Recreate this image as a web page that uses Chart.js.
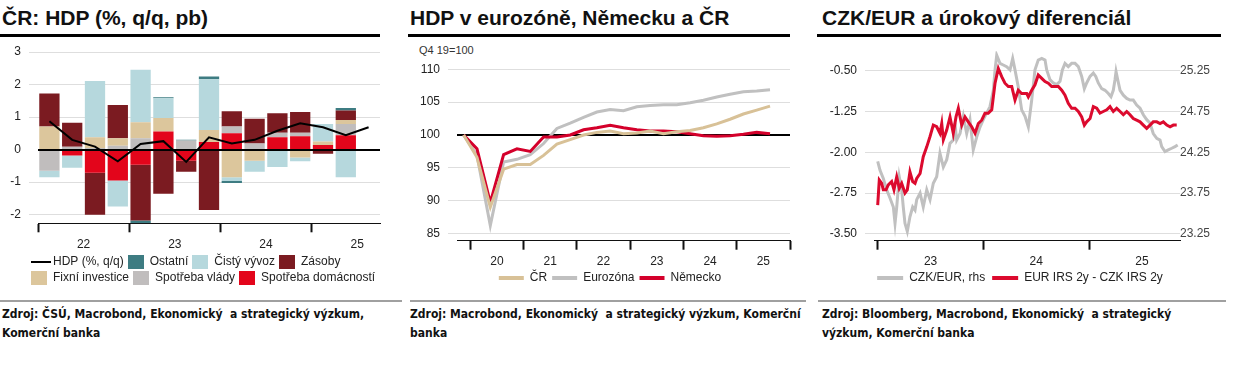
<!DOCTYPE html>
<html lang="cs">
<head>
<meta charset="utf-8">
<title>HDP, CZK/EUR</title>
<script src="https://cdn.jsdelivr.net/npm/chart.js@4.4.1/dist/chart.umd.min.js"></script>
<style>
html,body{margin:0;padding:0;background:#fff;}
body{width:1233px;height:372px;position:relative;overflow:hidden;font-family:"Liberation Sans",Arial,Helvetica,sans-serif;color:#111;}
.title{position:absolute;top:6px;font-size:21px;line-height:24px;font-weight:bold;white-space:nowrap;color:#111;}
.rule{position:absolute;top:34px;height:3px;background:#000;}
canvas{position:absolute;top:36px;}
.unit{position:absolute;left:419px;top:44px;font-size:11px;line-height:13px;color:#333;}
.src{position:absolute;top:300px;border-top:2px solid #a0a0a0;padding-top:3px;font-family:"Liberation Sans Narrow","Arial Narrow","DejaVu Sans Condensed",sans-serif;font-stretch:condensed;font-weight:bold;font-size:12px;line-height:19px;color:#111;white-space:nowrap;}
</style>
</head>
<body>
<div class="title" style="left:2px">ČR: HDP (%, q/q, pb)</div>
<div class="rule" style="left:0;width:380px"></div>
<div class="title" style="left:410px">HDP v eurozóně, Německu a ČR</div>
<div class="rule" style="left:408px;width:382px"></div>
<div class="title" style="left:822px">CZK/EUR a úrokový diferenciál</div>
<div class="rule" style="left:817px;width:404px"></div>
<div class="unit">Q4 19=100</div>

<canvas id="c1" width="400" height="258" style="left:0"></canvas>
<canvas id="c2" width="400" height="258" style="left:410px"></canvas>
<canvas id="c3" width="410" height="258" style="left:815px"></canvas>

<div class="src" style="left:0;width:400px;padding-left:2px">Zdroj: ČSÚ, Macrobond, Ekonomický&nbsp; a strategický výzkum,<br>Komerční banka</div>
<div class="src" style="left:410px;width:396px">Zdroj: Macrobond, Ekonomický&nbsp; a strategický výzkum, Komerční<br>banka</div>
<div class="src" style="left:818px;width:404px;padding-left:4px">Zdroj: Bloomberg, Macrobond, Ekonomický&nbsp; a strategický<br>výzkum, Komerční banka</div>

<script>
// ---------- Panel 1: ČR HDP contributions ----------
const quarters1 = ['1Q22','2Q22','3Q22','4Q22','1Q23','2Q23','3Q23','4Q23','1Q24','2Q24','3Q24','4Q24','1Q25','2Q25','3Q25'];
const yearLabels1 = ['22','23','24','25'];
const yTicks1 = [-2, -1, 0, 1, 2, 3];
const spotrebaDomacnosti = [0, -0.18, -0.71, -0.95, -0.47, 0.56, -0.34, 0.23, 0.50, 0, 0.38, 0.41, 0.14, 0.44, null];
const spotrebaVlady      = [-0.65, 0.09, 0.05, 0.12, 0.35, 0, 0.28, 0, 0.21, 0.19, 0.14, 0.11, 0, 0.35, null];
const fixniInvestice     = [0.71, 0, 0.33, 0.23, 0.49, 0.41, 0, 0.37, -0.85, -0.34, 0, -0.24, 0.11, 0.12, null];
const zasoby             = [1.02, 0.74, -1.30, 1.02, -1.71, -1.36, -0.34, -1.86, 0.47, 0.76, 0.60, 0.64, -0.13, 0.29, null];
const cistyVyvoz         = [-0.20, -0.38, 1.73, -0.80, 1.62, 0.61, 0, 1.57, -0.12, -0.34, -0.54, -0.12, 0.54, -0.85, null];
const ostatni            = [0, 0, 0, 0, -0.09, 0.03, 0.02, 0.08, -0.06, 0, 0, 0, 0, 0.08, null];
const hdpQQ              = [0.87, 0.30, 0.09, -0.36, 0.17, 0.26, -0.38, 0.38, 0.19, 0.30, 0.58, 0.81, 0.69, 0.44, 0.69];

// ---------- Panel 2: HDP index ----------
const quarters2 = ['4Q19','1Q20','2Q20','3Q20','4Q20','1Q21','2Q21','3Q21','4Q21','1Q22','2Q22','3Q22','4Q22',
                   '1Q23','2Q23','3Q23','4Q23','1Q24','2Q24','3Q24','4Q24','1Q25','2Q25','3Q25','4Q25'];
const yearLabels2 = ['20','21','22','23','24','25'];
const yTicks2 = [85, 90, 95, 100, 105, 110];
const hdpCR        = [100, 96.6, 89.0, 94.8, 95.5, 95.5, 96.9, 98.6, 99.3, 100.0, 100.4, 100.6, 100.2, 100.3, 100.6, 100.2, 100.5, 100.7, 101.1, 101.7, 102.4, 103.2, 103.8, 104.4];
const hdpEurozona  = [100, 96.9, 86.2, 95.9, 96.3, 97.0, 98.7, 101.0, 101.8, 102.7, 103.5, 103.9, 103.7, 104.3, 104.5, 104.6, 104.6, 104.9, 105.3, 105.8, 106.2, 106.6, 106.7, 106.9];
const hdpNemecko   = [100, 97.9, 89.7, 97.0, 97.9, 97.5, 99.7, 99.7, 100.0, 100.8, 101.1, 101.5, 101.1, 100.8, 100.6, 100.6, 100.5, 100.2, 99.9, 99.8, 99.9, 100.1, 100.4, 100.2];

// ---------- Panel 3: CZK/EUR and rate differential ----------
const yearLabels3 = ['23','24','25'];
const yTicksLeft3 = [-3.5, -2.75, -2.0, -1.25, -0.5];
const yTicksRight3 = [23.25, 23.75, 24.25, 24.75, 25.25];
const czkDates = [2023.000,2023.022,2023.053,2023.085,2023.116,2023.148,2023.164,2023.180,2023.204,2023.227,2023.242,2023.258,2023.280,2023.305,2023.331,2023.353,2023.369,2023.401,2023.431,2023.464,2023.495,2023.526,2023.558,2023.589,2023.621,2023.653,2023.684,2023.715,2023.731,2023.747,2023.779,2023.810,2023.842,2023.873,2023.904,2023.937,2023.968,2023.999,
  2024.031,2024.062,2024.094,2024.110,2024.126,2024.157,2024.188,2024.220,2024.252,2024.277,2024.299,2024.330,2024.362,2024.394,2024.425,2024.457,2024.488,2024.519,2024.552,2024.583,2024.599,2024.630,2024.661,2024.694,2024.725,2024.747,2024.772,2024.803,2024.835,2024.867,2024.898,2024.930,2024.955,2024.977,
  2025.009,2025.040,2025.063,2025.087,2025.119,2025.151,2025.182,2025.207,2025.229,2025.245,2025.255,2025.271,2025.293,2025.324,2025.356,2025.387,2025.418,2025.450,2025.482,2025.513,2025.545,2025.576,2025.607,2025.640,2025.671,2025.687,2025.718,2025.749,2025.782,2025.813,2025.838];
const czkEur = [24.14,24.03,23.93,23.79,23.69,23.58,23.38,23.58,23.95,23.79,23.58,23.38,23.28,23.46,23.58,23.54,23.67,23.75,23.58,23.79,23.67,23.87,23.95,24.24,24.07,24.16,24.36,24.40,24.61,24.40,24.48,24.69,24.48,24.65,24.28,24.44,24.56,24.65,
  24.73,24.81,25.01,25.26,25.44,25.34,25.32,25.30,25.26,25.40,25.26,25.05,24.77,24.69,24.56,24.89,25.26,25.38,25.40,25.38,25.26,25.14,25.10,25.08,25.12,25.26,25.34,25.30,25.34,25.34,25.30,25.18,25.03,25.10,
  25.18,25.22,25.18,25.10,25.03,25.01,24.97,24.93,25.01,25.14,25.24,25.14,25.01,24.95,24.91,24.89,24.89,24.83,24.79,24.71,24.65,24.61,24.48,24.42,24.40,24.32,24.26,24.28,24.30,24.32,24.34];
const irsDates = [2023.000,2023.015,2023.038,2023.053,2023.079,2023.100,2023.132,2023.154,2023.180,2023.204,2023.227,2023.258,2023.280,2023.305,2023.331,2023.353,2023.369,2023.401,2023.431,2023.464,2023.495,2023.526,2023.558,2023.589,2023.606,2023.621,2023.653,2023.684,2023.715,2023.741,2023.763,2023.795,2023.826,2023.857,2023.889,2023.921,2023.952,2023.984,
  2024.015,2024.046,2024.079,2024.110,2024.141,2024.173,2024.204,2024.236,2024.268,2024.299,2024.330,2024.362,2024.410,2024.425,2024.457,2024.488,2024.519,2024.552,2024.583,2024.614,2024.646,2024.677,2024.709,2024.741,2024.772,2024.803,2024.835,2024.867,2024.898,2024.930,2024.955,2024.977,
  2025.009,2025.040,2025.072,2025.103,2025.134,2025.167,2025.198,2025.229,2025.261,2025.293,2025.324,2025.356,2025.387,2025.418,2025.450,2025.482,2025.513,2025.545,2025.576,2025.607,2025.640,2025.671,2025.702,2025.735,2025.766,2025.797,2025.829];
const irsSpread = [-2.97,-2.51,-2.57,-2.69,-2.69,-2.60,-2.54,-2.69,-2.45,-2.66,-2.57,-2.75,-2.69,-2.36,-2.54,-2.57,-2.48,-2.39,-2.08,-1.90,-1.71,-1.50,-1.53,-1.65,-1.47,-1.77,-1.59,-1.35,-1.65,-1.35,-1.19,-1.50,-1.35,-1.44,-1.53,-1.65,-1.47,-1.41,
  -1.28,-1.28,-1.22,-0.73,-0.46,-0.61,-0.73,-0.79,-0.79,-1.04,-0.86,-0.92,-0.92,-0.98,-0.86,-0.76,-0.58,-0.64,-0.70,-0.73,-0.79,-0.79,-0.79,-0.86,-0.95,-1.10,-1.19,-1.19,-1.25,-1.35,-1.50,-1.44,
  -1.38,-1.16,-1.19,-1.28,-1.25,-1.22,-1.16,-1.25,-1.19,-1.25,-1.31,-1.25,-1.31,-1.38,-1.41,-1.44,-1.50,-1.56,-1.50,-1.44,-1.44,-1.47,-1.44,-1.50,-1.53,-1.50,-1.50];

// ---------- common ----------
Chart.defaults.font.family = '"Liberation Sans", Arial, Helvetica, sans-serif';
Chart.defaults.font.size = 12;
Chart.defaults.color = '#222';
Chart.defaults.animation = false;

const C = {
  red: '#e3051b', darkRed: '#7b1b21', tan: '#dcc69c', gray: '#c0bdbd',
  lightBlue: '#b6d8dd', teal: '#3e7c82', black: '#000',
  lineRed: '#d4002b', lineTan: '#d8c197', lineGray: '#c0c0c0', grid: '#dedede'
};
const NONE = 'rgba(0,0,0,0)';

function rectIcon(color, w, h) {
  const c = document.createElement('canvas'); c.width = w; c.height = h;
  const g = c.getContext('2d'); g.fillStyle = color; g.fillRect(0, 0, w, h); return c;
}
function lineIcon(color, w, lw, from, to) {
  const c = document.createElement('canvas'); c.width = w; c.height = lw;
  const g = c.getContext('2d'); g.fillStyle = color; g.fillRect(from, 0, to - from, lw); return c;
}
function fixedWidth(w) { return s => { s.width = w; }; }
function fixedHeight(h) { return s => { s.height = h; }; }
function dummyRight(w) {
  return { position: 'right', display: true, grid: { display: false, drawTicks: false },
           ticks: { display: false }, border: { display: false }, afterFit: fixedWidth(w) };
}

const zeroLine = {
  id: 'zeroLine',
  afterDatasetsDraw(chart) {
    const { ctx, chartArea: a, scales: { y } } = chart;
    const py = Math.round(y.getPixelForValue(0));
    ctx.save(); ctx.strokeStyle = '#000'; ctx.lineWidth = 2;
    ctx.beginPath(); ctx.moveTo(a.left, py); ctx.lineTo(a.right, py); ctx.stroke(); ctx.restore();
  }
};
// shifts the start-aligned legend of chart 1 to the right of the axis labels
const legendShift = {
  id: 'legendShift',
  afterLayout(chart) { if (chart.legend) chart.legend.left += 27; }
};

// ---------- Chart 1 ----------
const barDefs = [
  ['Spotřeba domácností', spotrebaDomacnosti, C.red],
  ['Spotřeba vlády', spotrebaVlady, C.gray],
  ['Fixní investice', fixniInvestice, C.tan],
  ['Zásoby', zasoby, C.darkRed],
  ['Čistý vývoz', cistyVyvoz, C.lightBlue],
  ['Ostatní', ostatni, C.teal]
];
const ds1 = barDefs.map(([label, data, color]) => ({
  type: 'bar', label, data, backgroundColor: color, borderWidth: 0, stack: 'c',
  barPercentage: 0.89, categoryPercentage: 1.0, order: 1
}));
ds1.push({ type: 'line', label: 'HDP (%, q/q)', data: hdpQQ, borderColor: C.black, backgroundColor: C.black,
  borderWidth: 2, pointRadius: 0, tension: 0, stack: 'hdp', order: 0 });
const legendOrder1 = [6, 5, 4, 3, 2, 1, 0];

new Chart(document.getElementById('c1'), {
  type: 'bar',
  data: { labels: quarters1, datasets: ds1 },
  plugins: [zeroLine, legendShift],
  options: {
    responsive: false, events: [],
    layout: { padding: { left: 0, right: 0, top: 6, bottom: 0 } },
    plugins: {
      tooltip: { enabled: false },
      legend: {
        position: 'bottom', align: 'start',
        labels: {
          usePointStyle: true, pointStyleWidth: 16, padding: 4, color: '#222', font: { size: 12 },
          generateLabels: chart => legendOrder1.map(i => {
            const d = chart.data.datasets[i];
            const isLine = d.type === 'line';
            return { text: d.label, datasetIndex: i, hidden: false, fontColor: '#222',
              fillStyle: d.backgroundColor, strokeStyle: NONE, lineWidth: 0,
              pointStyle: isLine ? lineIcon('#000', 24, 2, 4, 24) : rectIcon(d.backgroundColor, 16, 14) };
          })
        }
      }
    },
    scales: {
      x: {
        stacked: true, offset: true,
        grid: { offset: true, drawOnChartArea: false, tickLength: 9, tickWidth: 2,
          tickColor: c => (c.index !== undefined && c.index % 4 === 0) ? '#111' : NONE },
        border: { display: true, color: '#111', width: 1 },
        ticks: { autoSkip: false, maxRotation: 0, minRotation: 0, padding: 5, labelOffset: 11.4,
          callback: (v, i) => (i % 4 === 1 ? yearLabels1[(i - 1) / 4] : '') },
        afterFit: fixedHeight(28.7)
      },
      y: {
        stacked: true, min: -2.27, max: 3.03,
        afterBuildTicks: s => { s.ticks = yTicks1.map(v => ({ value: v })); },
        grid: { lineWidth: 1, tickLength: 9,
          color: c => (c.tick && c.tick.value === 0) ? NONE : C.grid,
          tickColor: c => (c.tick && c.tick.value === 0) ? NONE : C.grid },
        border: { display: false },
        ticks: { padding: 8, color: '#222' },
        afterFit: fixedWidth(38)
      },
      yR: dummyRight(20)
    }
  }
});

// ---------- Chart 2 ----------
const lineDefs2 = [['ČR', hdpCR, C.lineTan], ['Eurozóna', hdpEurozona, C.lineGray], ['Německo', hdpNemecko, C.lineRed]];
new Chart(document.getElementById('c2'), {
  type: 'line',
  data: { labels: quarters2, datasets: lineDefs2.map(([label, data, color], k) => ({
    label, data, borderColor: color, backgroundColor: color, borderWidth: 3, pointRadius: 0, tension: 0,
    order: k === 0 ? 0 : (k === 2 ? 1 : 2) })) },
  options: {
    responsive: false, events: [],
    layout: { padding: { left: 0, right: 0, top: 26.8, bottom: 0 } },
    plugins: {
      tooltip: { enabled: false },
      legend: {
        position: 'bottom', align: 'center',
        labels: {
          usePointStyle: true, pointStyleWidth: 25, padding: 5, color: '#222', font: { size: 12 },
          generateLabels: chart => [0, 1, 2].map(i => {
            const d = chart.data.datasets[i];
            return { text: d.label, datasetIndex: i, hidden: false, fontColor: '#222', pointStyle: 'line',
              fillStyle: d.borderColor, strokeStyle: d.borderColor, lineWidth: 4 };
          })
        }
      }
    },
    scales: {
      x: {
        offset: true,
        grid: { offset: true, drawOnChartArea: false, tickLength: 9, tickWidth: 2,
          tickColor: c => (c.index === undefined || c.index % 4 === 1) ? '#111' : NONE },
        border: { display: true, color: '#111', width: 1 },
        ticks: { autoSkip: false, maxRotation: 0, minRotation: 0, padding: 5, labelOffset: 6.66,
          callback: (v, i) => (i % 4 === 2 ? yearLabels2[(i - 2) / 4] : '') },
        afterFit: fixedHeight(26.3)
      },
      y: {
        min: 83.9, max: 111,
        afterBuildTicks: s => { s.ticks = yTicks2.map(v => ({ value: v })); },
        grid: { tickLength: 9,
          color: c => (c.tick && c.tick.value === 100) ? '#000' : C.grid,
          lineWidth: c => (c.tick && c.tick.value === 100) ? 2 : 1,
          tickColor: c => (c.tick && c.tick.value === 100) ? NONE : C.grid },
        border: { display: false },
        ticks: { padding: 8, color: '#222' },
        afterFit: fixedWidth(47)
      },
      yR: dummyRight(20)
    }
  }
});

// ---------- Chart 3 ----------
const toXY = (xs, ys) => xs.map((x, i) => ({ x, y: ys[i] }));
new Chart(document.getElementById('c3'), {
  type: 'line',
  data: { datasets: [
    { label: 'CZK/EUR, rhs', data: toXY(czkDates, czkEur), yAxisID: 'y2', borderColor: C.lineGray,
      backgroundColor: C.lineGray, borderWidth: 3, pointRadius: 0, tension: 0, order: 1 },
    { label: 'EUR IRS 2y - CZK IRS 2y', data: toXY(irsDates, irsSpread), yAxisID: 'y', borderColor: '#dc0a2e',
      backgroundColor: '#dc0a2e', borderWidth: 3, pointRadius: 0, tension: 0, order: 0 }
  ] },
  options: {
    responsive: false, events: [],
    layout: { padding: { left: 0, right: 0, top: 14, bottom: 0 } },
    plugins: {
      tooltip: { enabled: false },
      legend: {
        position: 'bottom', align: 'center',
        labels: {
          usePointStyle: true, pointStyleWidth: 26, padding: 7, color: '#222', font: { size: 12 },
          generateLabels: chart => [0, 1].map(i => {
            const d = chart.data.datasets[i];
            return { text: d.label, datasetIndex: i, hidden: false, fontColor: '#222', pointStyle: 'line',
              fillStyle: d.borderColor, strokeStyle: d.borderColor, lineWidth: 4 };
          })
        }
      }
    },
    scales: {
      x: {
        type: 'linear', min: 2022.965, max: 2025.86,
        afterBuildTicks: s => { s.ticks = [2023, 2023.5, 2024, 2024.5, 2025, 2025.5].map(v => ({ value: v })); },
        grid: { drawOnChartArea: false, tickLength: 9, tickWidth: 2,
          tickColor: c => (c.tick && Number.isInteger(c.tick.value)) ? '#111' : NONE },
        border: { display: true, color: '#111', width: 1 },
        ticks: { autoSkip: false, maxRotation: 0, minRotation: 0, padding: 5,
          callback: v => (Number.isInteger(v) ? '' : yearLabels3[Math.floor(v) - 2023]) },
        afterFit: fixedHeight(24.3)
      },
      y: {
        position: 'left', min: -3.625, max: -0.1415,
        afterBuildTicks: s => { s.ticks = yTicksLeft3.map(v => ({ value: v })); },
        grid: { tickLength: 9, color: C.grid, tickColor: C.grid },
        border: { display: false },
        ticks: { padding: 8, color: '#222', callback: v => v.toFixed(2) },
        afterFit: fixedWidth(59)
      },
      y2: {
        position: 'right', min: 23.167, max: 25.489,
        afterBuildTicks: s => { s.ticks = yTicksRight3.map(v => ({ value: v })); },
        grid: { display: false, drawTicks: false, drawOnChartArea: false },
        border: { display: false },
        ticks: { padding: 0, color: '#444', callback: v => v.toFixed(2) },
        afterFit: fixedWidth(45)
      }
    }
  }
});
</script>
</body>
</html>
